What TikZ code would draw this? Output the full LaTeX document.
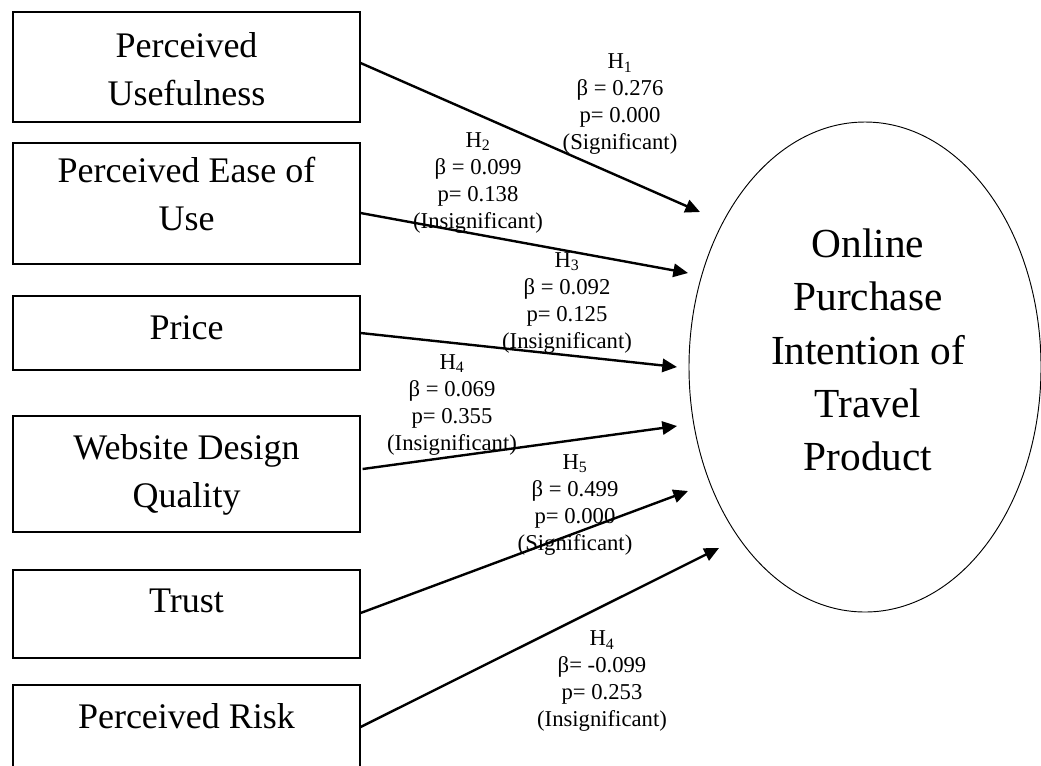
\documentclass[tikz,border=0pt]{standalone}
\usepackage{fontspec}
\setmainfont{Liberation Serif}
\usetikzlibrary{arrows.meta,shapes.geometric,calc}
\begin{document}
\begin{tikzpicture}[x=0.75pt,y=-0.75pt,
  boxnode/.style={draw=black, line width=0.9pt, minimum width=260.25pt, inner sep=0pt},
  boxtext/.style={font=\fontsize{27}{36}\selectfont, align=center, inner sep=0pt},
  hyp/.style={font=\fontsize{17}{20.25}\selectfont, align=center, inner sep=0pt},
  arr/.style={line width=1.8pt, -{Triangle[length=11pt,width=10pt]}},
]
\useasboundingbox (0,0) rectangle (1041,765);

% boxes
\node[boxnode, minimum height=82.5pt] (b1) at (186.5,67) {};
\node[boxnode, minimum height=90.75pt] (b2) at (186.5,203.5) {};
\node[boxnode, minimum height=55.5pt] (b3) at (186.5,333) {};
\node[boxnode, minimum height=87pt] (b4) at (186.5,474) {};
\node[boxnode, minimum height=66pt] (b5) at (186.5,614) {};
\node[boxnode, minimum height=66pt] (b6) at (186.5,729) {};

% box texts
\node[boxtext] (bt1) at (186.5,68.7) {Perceived\\Usefulness};
\node[boxtext] (bt2) at (186.5,193.7) {Perceived Ease of\\Use};
\node[boxtext] (bt3) at (186.5,327.7) {Price};
\node[boxtext] (bt4) at (186.5,475.1) {Website Design\\Quality};
\node[boxtext] (bt5) at (186.5,601) {Trust};
\node[boxtext] (bt6) at (186.5,715.7) {Perceived Risk};

% ellipse
\node[draw=black, ellipse, line width=0.7pt, minimum width=264pt, minimum height=367.5pt, inner sep=0pt] (oi) at (865,367) {};
\node[font=\fontsize{31}{40}\selectfont, align=center, inner sep=0pt] (oit) at (868,350) {Online\\Purchase\\Intention of\\Travel\\Product};

% arrow tips
\coordinate (t1) at (700,212);
\coordinate (t2) at (688,273);
\coordinate (t3) at (677,367);
\coordinate (t4) at (677,426);
\coordinate (t5) at (688,491);
\coordinate (t6) at (719,548);

\draw[arr] ($(b1.east)+(0,-4)$) -- (t1);
\draw[arr] ($(b2.east)+(0,9.5)$) -- (t2);
\draw[arr] (b3.east) -- (t3);
\draw[arr] ($(b4.east)+(2,-5)$) -- (t4);
\draw[arr] ($(b5.east)+(0,-1)$) -- (t5);
\draw[arr] ($(b6.east)+(0,-2)$) -- (t6);

% hypothesis labels
\node[hyp] (h1) at (620,104.5) {H\textsubscript{1}\\β = 0.276\\p= 0.000\\(Significant)};
\node[hyp] (h2) at (478,183) {H\textsubscript{2}\\β = 0.099\\p= 0.138\\(Insignificant)};
\node[hyp] (h3) at (567,303) {H\textsubscript{3}\\β = 0.092\\p= 0.125\\(Insignificant)};
\node[hyp] (h4) at (452,405) {H\textsubscript{4}\\β = 0.069\\p= 0.355\\(Insignificant)};
\node[hyp] (h5) at (575,505) {H\textsubscript{5}\\β = 0.499\\p= 0.000\\(Significant)};
\node[hyp] (h6) at (602,681.5) {H\textsubscript{4}\\β= -0.099\\p= 0.253\\(Insignificant)};
\end{tikzpicture}
\end{document}
